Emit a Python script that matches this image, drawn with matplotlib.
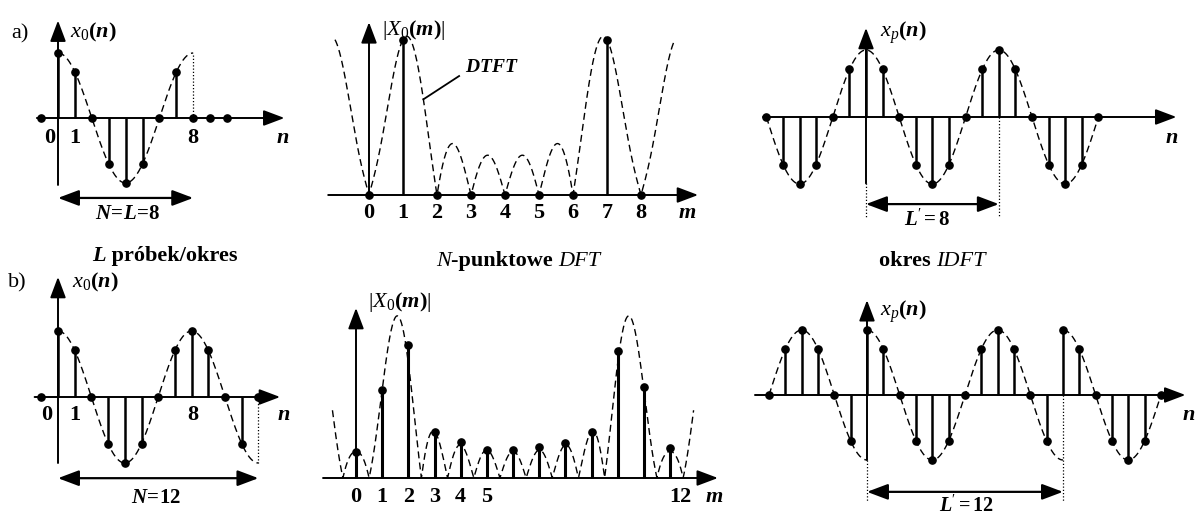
import numpy as np
import matplotlib
matplotlib.use("Agg")
import matplotlib.pyplot as plt
from matplotlib.offsetbox import TextArea, HPacker, AnnotationBbox

plt.rcParams['font.family'] = ['Liberation Serif', 'DejaVu Serif']
plt.rcParams['mathtext.fontset'] = 'custom'
plt.rcParams['mathtext.rm'] = 'Liberation Serif'
plt.rcParams['mathtext.it'] = 'Liberation Serif:italic'
plt.rcParams['mathtext.bf'] = 'Liberation Serif:bold'
plt.rcParams['mathtext.bfit'] = 'Liberation Serif:italic:bold'

# ---------------- data ----------------
# (a) L = N = 8
n_a = [-1, 0, 1, 2, 3, 4, 5, 6, 7, 8, 9, 10]
x_a = [0, 1.0, 0.71, 0, -0.71, -1.0, -0.71, 0, 0.71, 0, 0, 0]
m_a = [0, 1, 2, 3, 4, 5, 6, 7, 8]
X_a = [0, 4.0, 0, 0, 0, 0, 0, 4.0, 0]
np_a = list(range(-6, 15))
xp_a = [0, -0.71, -1.0, -0.71, 0, 0.71, 1.08, 0.71, 0, -0.71, -1.0,
        -0.71, 0, 0.71, 1.0, 0.71, 0, -0.71, -1.0, -0.71, 0]
# (b) N = 12
n_b = [-1, 0, 1, 2, 3, 4, 5, 6, 7, 8, 9, 10, 11, 12]
x_b = [0, 1.0, 0.71, 0, -0.71, -1.0, -0.71, 0, 0.71, 1.0, 0.71, 0, -0.71, 0]
m_b = [0, 1, 2, 3, 4, 5, 6, 7, 8, 9, 10, 11, 12]
X_b = [0.97, 3.3, 5.0, 1.72, 1.35, 1.05, 1.05, 1.16, 1.31, 1.72, 4.76, 3.41, 1.12]
np_b = list(range(-6, 19))
xp_b = [0, 0.71, 1.0, 0.71, 0, -0.71,
        1.0, 0.71, 0, -0.71, -1.0, -0.71, 0, 0.71, 1.0, 0.71, 0, -0.71,
        1.0, 0.71, 0, -0.71, -1.0, -0.71, 0]
SIG_PERIOD = 8      # period (samples) of the underlying sinusoid
tick_a = ['0', '1', '8']
tick_b = ['0', '1', '8']

# ---------------- helpers ----------------
W, H = 1198, 516
fig = plt.figure(figsize=(W / 100, H / 100), dpi=100)
fig.patch.set_facecolor('white')

LW_AX = 1.4
LW_STEM = 1.8


def panel(box, origin, scale):
    l, t, r, b = box
    ox, oy = origin
    sx, sy = scale
    ax = fig.add_axes([l / W, 1 - b / H, (r - l) / W, (b - t) / H])
    ax.set_xlim((l - ox) / sx, (r - ox) / sx)
    ax.set_ylim((oy - b) / sy, (oy - t) / sy)
    ax.set_axis_off()
    return ax


def arrow(ax, start, end, both=False, lw=LW_AX):
    style = ('<|-|>' if both else '-|>') + ',head_length=0.85,head_width=0.32'
    ax.annotate('', xy=end, xytext=start,
                arrowprops=dict(arrowstyle=style, mutation_scale=15, lw=lw,
                                color='k', shrinkA=0, shrinkB=0),
                annotation_clip=False)


def stems(ax, xs, ys, lw=LW_STEM, ms=5.2):
    ax.vlines(xs, 0, ys, colors='k', lw=lw, zorder=3)
    ax.plot(xs, ys, 'o', color='k', ms=ms, zorder=4, clip_on=False)


def dashed(ax, t, y):
    ax.plot(t, y, color='k', lw=1.0, dashes=(5, 3), zorder=2, clip_on=False)


def dotted(ax, x, y0, y1):
    ax.plot([x, x], [y0, y1], color='k', lw=0.9, ls=(0, (1, 1.6)), clip_on=False)


def env_cos(t):
    return np.cos(2 * np.pi * t / SIG_PERIOD)


def dtft_mag(x, N, m):
    n = np.arange(len(x))
    return np.abs(np.exp(-2j * np.pi * np.outer(m, n) / N) @ np.asarray(x))


def txt(ax, x, y, s, size=16, ha='center', bold=True):
    ax.text(x, y, s, fontsize=size, ha=ha, va='center',
            fontweight='bold' if bold else 'normal', clip_on=False)


def rich(x_px, y_px, pieces, size=16):
    children = [TextArea(s, textprops=dict(fontsize=size, fontstyle=st,
                                           fontweight=wt, family='Liberation Serif'))
                for s, st, wt in pieces]
    box = HPacker(children=children, align='baseline', pad=0, sep=0)
    ab = AnnotationBbox(box, (x_px / W, 1 - y_px / H), xycoords='figure fraction',
                        frameon=False, box_alignment=(0.5, 0.5), pad=0)
    fig.add_artist(ab)


LBL_X0 = r'$x_{0}\mathbf{(}\mathbfit{n}\mathbf{)}$'
LBL_XP = r'$x_{p}\mathbf{(}\mathbfit{n}\mathbf{)}$'
LBL_XM = r'$|X_{0}\mathbf{(}\mathbfit{m}\mathbf{)}|$'
LBL_N = r'$\mathbfit{n}$'
LBL_M = r'$\mathbfit{m}$'

# ================= (a) row =================
# A1: x0(n), 8 samples
ax = panel((0, 0, 300, 240), (58, 118), (16.9, 65))
arrow(ax, (-1.25, 0), (13.4, 0))
arrow(ax, (0, -1.03), (0, 1.5))
t = np.linspace(0, 8, 300)
dashed(ax, t, env_cos(t))
dotted(ax, 8, 0, 1.0)
stems(ax, n_a, x_a)
arrow(ax, (0, -1.23), (8, -1.23), both=True, lw=1.6)
txt(ax, 4.1, -1.47, r'$\mathbfit{N}\!\mathbf{=}\!\mathbfit{L}\!\mathbf{=}\!\mathbf{8}$', size=15)
for s, xx in zip(tick_a, [-0.47, 1, 8]):
    txt(ax, xx, -0.31, s)
txt(ax, 13.3, -0.31, LBL_N)
txt(ax, -2.75, 1.3, 'a)', ha='left', bold=False)
txt(ax, 0.7, 1.32, LBL_X0, ha='left')

# A2: |X0(m)|, 8-point DFT
ax = panel((300, 0, 740, 240), (369, 195), (34, 38.75))
arrow(ax, (-1.2, 0), (9.68, 0))
arrow(ax, (0, 0), (0, 4.46))
mm = np.linspace(-1.0, 9.0, 800)
dashed(ax, mm, dtft_mag(x_a[1:9], 8, mm))
stems(ax, m_a, X_a)
mref = 1.6
ax.plot([2.65, mref], [3.07, dtft_mag(x_a[1:9], 8, [mref])[0]], color='k', lw=1.3)
txt(ax, 3.6, 3.3, r'$\mathbfit{DTFT}$', size=14)
for k in m_a:
    txt(ax, k, -0.47, str(k))
txt(ax, 9.35, -0.47, LBL_M)
txt(ax, 0.38, 4.26, LBL_XM, ha='left')

# A3: periodic xp(n), L' = 8
ax = panel((740, 0, 1198, 240), (866, 117), (16.6, 67))
arrow(ax, (-6.2, 0), (18.7, 0))
arrow(ax, (0, -0.99), (0, 1.33))
t = np.linspace(-6, 14, 600)
dashed(ax, t, env_cos(t))
dotted(ax, 0, -0.99, -1.5)
dotted(ax, 8, 0, -1.5)
stems(ax, np_a, xp_a)
arrow(ax, (0, -1.3), (8, -1.3), both=True, lw=1.6)
txt(ax, 3.7, -1.54, r"$\mathbfit{L}'\mathbf{=8}$", size=15)
txt(ax, 18.4, -0.31, LBL_N)
txt(ax, 0.85, 1.25, LBL_XP, ha='left')

# ================= (b) row =================
# B1: x0(n), 12 samples
ax = panel((0, 240, 300, 516), (58, 397), (16.7, 66))
arrow(ax, (-1.4, 0), (13.3, 0))
arrow(ax, (0, -1.0), (0, 1.82))
t = np.linspace(0, 12, 400)
dashed(ax, t, env_cos(t))
dotted(ax, 12, 0, -1.0)
stems(ax, n_b, x_b)
arrow(ax, (0, -1.23), (12, -1.23), both=True, lw=1.6)
txt(ax, 5.9, -1.53, r'$\mathbfit{N}\!\mathbf{=}\!\mathbf{12}$', size=15)
for s, xx in zip(tick_b, [-0.65, 1, 8.1]):
    txt(ax, xx, -0.27, s)
txt(ax, 13.5, -0.27, LBL_N)
txt(ax, -3.0, 1.73, 'b)', ha='left', bold=False)
txt(ax, 0.84, 1.73, LBL_X0, ha='left')

# B2: |X0(m)|, 12-point DFT
ax = panel((300, 240, 740, 516), (356, 478), (26.17, 26.7))
arrow(ax, (-1.26, 0), (13.83, 0))
arrow(ax, (0, 0), (0, 6.37))
mm = np.linspace(-0.9, 12.9, 1000)
dashed(ax, mm, dtft_mag(x_b[1:13], 12, mm))
stems(ax, m_b, X_b, lw=2.2)
for k in range(6):
    txt(ax, k, -0.71, str(k))
txt(ax, 12.4, -0.71, '12')
txt(ax, 13.7, -0.71, LBL_M)
txt(ax, 0.46, 6.6, LBL_XM, ha='left')

# B3: periodic xp(n), L' = 12
ax = panel((740, 240, 1198, 516), (867, 395), (16.33, 65))
arrow(ax, (-6.86, 0), (19.5, 0))
arrow(ax, (0, -1.0), (0, 1.46))
for lo, hi, shift in [(-6, 0, 12), (0, 12, 0), (12, 18, -12)]:
    t = np.linspace(lo, hi, 300)
    dashed(ax, t, env_cos(t + shift))
dotted(ax, 0, -1.0, -1.65)
dotted(ax, 12, 0, -1.65)
stems(ax, np_b, xp_b)
arrow(ax, (0, -1.49), (12, -1.49), both=True, lw=1.6)
txt(ax, 6.1, -1.71, r"$\mathbfit{L}'\mathbf{=12}$", size=14.5)
txt(ax, 19.7, -0.3, LBL_N)
txt(ax, 0.8, 1.28, LBL_XP, ha='left')

# ---------------- captions ----------------
rich(165, 256, [('L', 'italic', 'bold'), (' próbek/okres', 'normal', 'bold')])
rich(518, 261, [('N', 'italic', 'normal'), ('-punktowe ', 'normal', 'bold'),
                ('DFT', 'italic', 'normal')])
rich(932, 261, [('okres ', 'normal', 'bold'), ('IDFT', 'italic', 'normal')])

fig.savefig('out.png', dpi=100, facecolor='white')
